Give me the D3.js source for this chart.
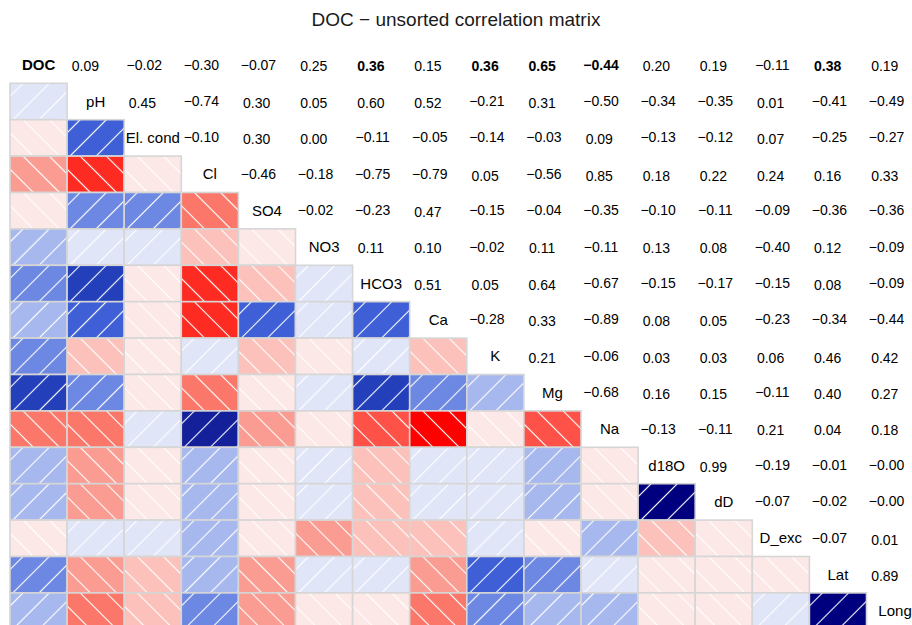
<!DOCTYPE html>
<html lang="en">
<head>
  <meta charset="UTF-8" />
  <title>DOC - unsorted correlation matrix</title>
  <style>
    html,body{margin:0;padding:0;background:#fff;overflow:hidden;}
    svg{display:block;font-family:"Liberation Sans",Arial,sans-serif;}
  </style>
</head>
<body>
  <div id="chart"></div>
<script src="https://d3js.org/d3.v7.min.js"></script>
<script>
  const vars=['DOC','pH','El. cond','Cl','SO4','NO3','HCO3','Ca','K','Mg','Na','d18O','dD','D_exc','Lat','Long'];

  // upper triangle, one row per variable (values to the right of the diagonal)
  const rDOC=[0.09,-0.02,-0.30,-0.07,0.25,0.36,0.15,0.36,0.65,-0.44,0.20,0.19,-0.11,0.38,0.19];
  const rPH=[0.45,-0.74,0.30,0.05,0.60,0.52,-0.21,0.31,-0.50,-0.34,-0.35,0.01,-0.41,-0.49];
  const rElCond=[-0.10,0.30,0.00,-0.11,-0.05,-0.14,-0.03,0.09,-0.13,-0.12,0.07,-0.25,-0.27];
  const rCl=[-0.46,-0.18,-0.75,-0.79,0.05,-0.56,0.85,0.18,0.22,0.24,0.16,0.33];
  const rSO4=[-0.02,-0.23,0.47,-0.15,-0.04,-0.35,-0.10,-0.11,-0.09,-0.36,-0.36];
  const rNO3=[0.11,0.10,-0.02,0.11,-0.11,0.13,0.08,-0.40,0.12,-0.09];
  const rHCO3=[0.51,0.05,0.64,-0.67,-0.15,-0.17,-0.15,0.08,-0.09];
  const rCa=[-0.28,0.33,-0.89,0.08,0.05,-0.23,-0.34,-0.44];
  const rK=[0.21,-0.06,0.03,0.03,0.06,0.46,0.42];
  const rMg=[-0.68,0.16,0.15,-0.11,0.40,0.27];
  const rNa=[-0.13,-0.11,0.21,0.04,0.18];
  const rD18O=[0.99,-0.19,-0.01,-0.001];
  const rDD=[-0.07,-0.02,-0.001];
  const rDExc=[-0.07,0.01];
  const rLat=[0.89];

  // significant pairs (bold labels)
  const boldPairs=[['DOC','HCO3'],['DOC','K'],['DOC','Mg'],['DOC','Na'],['DOC','Lat']];

  const rows=[rDOC,rPH,rElCond,rCl,rSO4,rNO3,rHCO3,rCa,rK,rMg,rNa,rD18O,rDD,rDExc,rLat];
  const n=vars.length;
  const cells=[];
  rows.forEach((r,i)=>r.forEach((v,k)=>{
    const j=i+1+k;
    cells.push({a:vars[i],b:vars[j],v:v});
  }));

  const W=912,H=625;
  const cw=57.1,ch=36.4,x0=10,y0=46.9;
  const x=d3.scaleBand().domain(vars).range([x0,x0+n*cw]);
  const y=d3.scaleBand().domain(vars).range([y0,y0+n*ch]);

  const color=d3.scaleThreshold()
    .domain([-6/7,-5/7,-4/7,-3/7,-2/7,-1/7,0,1/7,2/7,3/7,4/7,5/7,6/7])
    .range(['#ff0000','#fe2b22','#fe5147','#fa776a','#fa9c91','#fcc1ba','#fce8e6',
            '#e1e5f8','#a7b8ee','#6d88e2','#3e5fd5','#2340ba','#14209a','#00007f']);

  const fmt=v=>(v<0?'\u2212':'')+Math.abs(v).toFixed(2);
  const isBold=d=>boldPairs.some(p=>p[0]===d.a&&p[1]===d.b);

  const svg=d3.select('#chart').append('svg').attr('width',W).attr('height',H);

  const sp=18.5;
  const defs=svg.append('defs');
  [['pos',45],['neg',-45]].forEach(([id,a])=>{
    const p=defs.append('pattern').attr('id','hatch-'+id)
      .attr('patternUnits','userSpaceOnUse')
      .attr('width',sp).attr('height',sp)
      .attr('patternTransform',`rotate(${a})`);
    p.append('line').attr('x1',sp/2).attr('y1',0).attr('x2',sp/2).attr('y2',sp)
      .attr('stroke','#fff').attr('stroke-width',1.1);
  });

  svg.append('text').attr('x',456).attr('y',25.5).attr('text-anchor','middle')
     .attr('font-size',19).attr('fill','#1a1a1a').text('DOC \u2212 unsorted correlation matrix');

  // lower triangle: coloured, hatched squares
  const lower=svg.append('g');
  const cellG=lower.selectAll('g').data(cells).join('g')
    .attr('transform',d=>`translate(${x(d.a)},${y(d.b)})`);
  cellG.append('rect').attr('width',x.bandwidth()).attr('height',y.bandwidth())
    .attr('fill',d=>color(d.v));
  cellG.append('rect').attr('width',x.bandwidth()).attr('height',y.bandwidth())
    .attr('fill',d=>d.v>=0?'url(#hatch-pos)':'url(#hatch-neg)');
  cellG.append('rect').attr('width',x.bandwidth()).attr('height',y.bandwidth())
    .attr('fill','none').attr('stroke','#d6d6d6').attr('stroke-width',1.6);

  // upper triangle: numbers
  svg.append('g').selectAll('text').data(cells).join('text')
    .attr('x',d=>x(d.b)+x.bandwidth()/2+(d.v<0?-8.5:-10.3))
    .attr('y',d=>y(d.a)+y.bandwidth()/2+(d.v<0?4.5:6.3))
    .attr('text-anchor','middle').attr('font-size',14)
    .attr('font-weight',d=>isBold(d)?'bold':'normal')
    .attr('fill','#000').text(d=>fmt(d.v));

  // diagonal: variable names
  svg.append('g').selectAll('text').data(vars).join('text')
    .attr('x',d=>x(d)+x.bandwidth()/2)
    .attr('y',d=>y(d)+y.bandwidth()/2+5)
    .attr('text-anchor','middle').attr('font-size',15)
    .attr('font-weight',d=>d==='DOC'?'bold':'normal')
    .attr('fill','#000').text(d=>d);
</script>
</body>
</html>
